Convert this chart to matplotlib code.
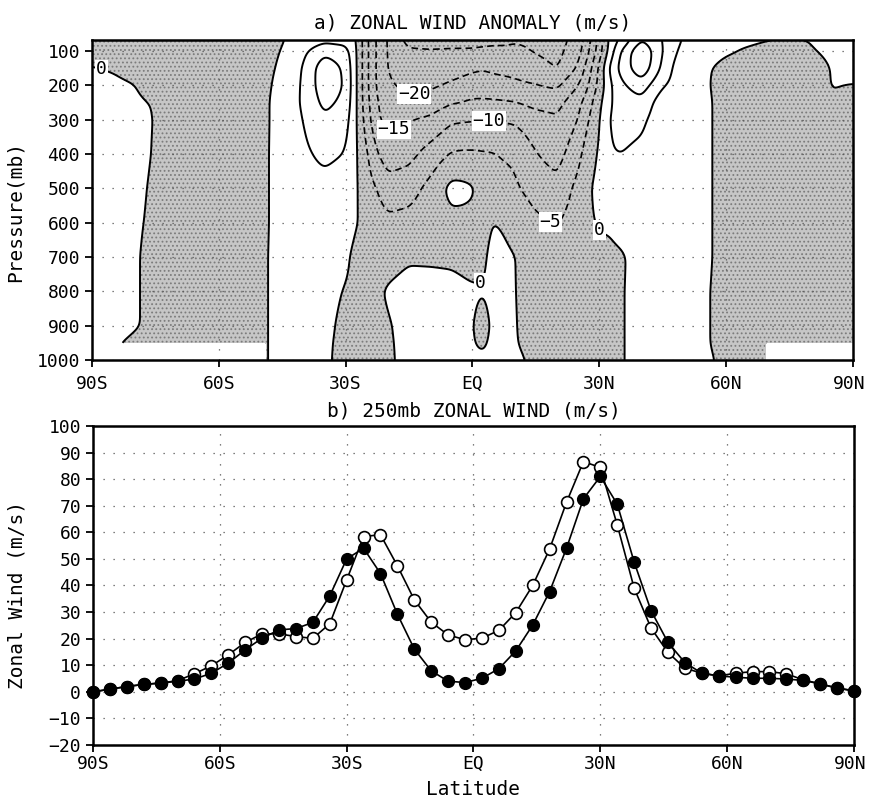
#!/usr/bin/env python3

import numpy as np
import matplotlib
matplotlib.use('Agg')
import matplotlib.pyplot as plt
from matplotlib.transforms import offset_copy

# === DATA ===
# panel a: zonal-mean zonal wind anomaly (m/s) on latitude x pressure
lat_a = [-90, -85, -80, -75, -70, -65, -60, -55, -50, -45, -40, -35, -30, -27.5,
         -25, -22.5, -20, -15, -10, -5, -2.5, 0, 2.5, 5, 7.5, 10, 15, 20, 25, 27.5,
         30, 32.5, 35, 40, 45, 50, 55, 60, 65, 70, 75, 80, 85, 90]
lev_a = [70, 100, 150, 200, 250, 300, 400, 500, 600, 700, 800, 900, 950, 1000]
u_anom = [
    # 70 mb
    [-2, -2, -2.5, -3, -3, -3, -3, -3, -2, -0.3, 2, 3.5, 3, 0.3, -9, -16, -20.5, -27, -27, -26.5,
     -26.5, -26.5, -26.5, -26, -26, -25.5, -25.5, -27, -23, -16.5, -8, 1.5, 5.5, 14.5, 9.8, 4.5, 2, 0.5, 0.5, 0.2,
     0.1, 0.1, 1, 2],
    # 100 mb
    [-1.5, -1.5, -2, -3, -3, -3, -3, -3, -2, 0.2, 4, 8.5, 7, 0.5, -9, -16, -20.5, -24, -24.5, -24.5,
     -24.5, -24.5, -24, -24, -24, -24, -25.5, -26.5, -22, -15.5, -7.5, 2, 10, 20, 10, 3, 1.5, 0.5, -0.3, -1,
     -1.2, -0.2, 0.5, 1.5],
    # 150 mb
    [0.2, -0.3, -1.2, -2.5, -3, -3, -3, -3, -2, 1, 5.3, 13.5, 9, 0.5, -9, -16, -20.3, -23, -22.5, -21.5,
     -21, -20.5, -20.2, -20.7, -21, -21.2, -23, -25.3, -19.5, -12, -4, 6, 11.5, 19, 8.8, 0.5, 0.5, -1, -1.5, -2,
     -2, -1, 0.1, 1],
    # 200 mb
    [1, 0.7, 0.1, -1.5, -3, -3, -3, -3, -2, 2, 5.5, 13.5, 9.5, 0.5, -9, -16, -19.2, -21.5, -20.8, -19.5,
     -19, -18.5, -18.2, -18.5, -18.8, -19.2, -19.8, -21, -15, -10, -3.5, 4, 8.8, 12.5, 5.5, 2, 0.5, -1.5, -2.5, -3,
     -3, -2, 0.2, -0.1],
    # 250 mb
    [1.5, 1.5, 0.5, -0.2, -2.5, -3, -3, -3, -2, 3, 5.4, 11.5, 8.5, 0.5, -8.5, -15, -17.5, -18.8, -18, -15.5,
     -15, -14, -14, -14.2, -14.5, -14.8, -16.5, -16.5, -11.5, -7, -1.2, 4.2, 7.8, 8.5, 2, 1.5, 0.8, -1.5, -2.5, -3,
     -3, -2.5, -0.5, -1],
    # 300 mb
    [2, 2, 0.8, -0.1, -2.5, -3, -3, -3, -2, 3, 5, 9, 7, 0.5, -7.5, -14.4, -16.5, -15.2, -14, -10.8,
     -10.5, -10.3, -10.2, -10.2, -10.4, -10.7, -13, -14.5, -10, -5, -0.3, 5.3, 7, 6, 2, 1.5, 0.8, -1.5, -3, -3,
     -3, -2.5, -1.5, -1.5],
    # 400 mb
    [2, 2, 0.8, -0.2, -2.5, -3, -3, -3, -1.8, 3, 4.2, 6, 4.8, 0.5, -4.5, -9.8, -12.5, -11.5, -8, -4.6,
     -4.3, -4.3, -4.5, -4.7, -5.5, -5.8, -9.8, -12, -6.5, -2, 0.5, 4.6, 5.0, 3.8, 2, 1.5, 0.8, -1.5, -3, -3,
     -3, -3, -2, -2],
    # 500 mb
    [2, 1.8, 0.6, -0.4, -2.5, -3, -3, -3, -1.8, 3, 3.5, 3.5, 3, 0.5, -2.8, -5.2, -8, -7, -3.5, 1.5,
     1.2, 0.5, -2, -2.8, -3.3, -4.3, -7, -8.5, -3.5, -0.6, 1.5, 2.2, 2.5, 2.5, 2, 1.5, 0.8, -1.5, -3, -3,
     -3, -3, -2.5, -2],
    # 600 mb
    [2, 1.8, 0.4, -0.5, -2.5, -3, -3, -3, -1.8, 3, 3, 3, 2.5, 0.3, -1.8, -2.5, -3.8, -3.3, -2, -1.3,
     -1.2, -1.2, -1, 0.1, -0.4, -1.5, -4, -5.3, -2.5, -0.5, 0.3, 0.5, 1.5, 2.2, 2, 1.5, 0.8, -1.5, -3, -3,
     -3, -3, -2.5, -2],
    # 700 mb
    [2, 1.8, 0.3, -0.8, -2.5, -3, -3, -3, -1.5, 3, 3, 3, 1, -1.5, -2, -2, -1.5, -0.5, -0.6, -0.7,
     -1, -1.5, -0.5, 0.9, 0.7, 0.1, -2, -2.5, -2, -1.5, -0.8, -0.8, -0.5, 1.5, 2, 1.5, 0.8, -1.5, -3, -3,
     -3, -3, -2.5, -2],
    # 800 mb
    [2, 1.5, 0.3, -0.8, -2.5, -3, -3, -3, -1.5, 3, 3, 2, -0.4, -1, -1, -0.6, 0.4, 1.5, 1.5, 1.2,
     0.8, 0.5, 0.1, 1, 0.8, 0.1, -1.5, -2.5, -2, -1.5, -1, -0.7, -0.3, 1.2, 2, 1.5, 0.5, -1.5, -3, -3,
     -3, -3, -2.5, -2],
    # 900 mb
    [1.5, 1.5, 0.3, -0.8, -2.5, -3, -3, -3, -1.5, 3, 3, 1.5, -1.5, -1.5, -1.2, -0.8, -0.3, 1.2, 1.5, 1.2,
     0.8, 0.2, -1.3, 0.8, 0.8, 0.2, -1.5, -2.5, -2, -1.5, -1, -0.7, -0.3, 1.2, 2, 1.5, 0.5, -1.5, -3, -3,
     -3, -3, -2.5, -2],
    # 950 mb
    [1, 0.3, -0.6, -1, -2.5, -3, -3, -3, -1.5, 3, 3, 1, -1.5, -1.5, -1.2, -0.8, -0.4, 1, 1.5, 1.2,
     0.8, 0.2, -0.5, 0.8, 0.8, 0.2, -1, -2.5, -2, -1.5, -1, -0.7, -0.3, 1.2, 2, 1.5, 0.5, -1.5, -3, -3,
     -3, -3, -2.5, -2],
    # 1000 mb
    [1, 0.3, -0.6, -1, -2.5, -3, -3, -3, -1.5, 3, 3, 0.8, -1.5, -1.5, -1.2, -0.8, -0.5, 1, 1.5, 1.2,
     0.8, 0.5, 0.5, 0.8, 0.8, 0.5, -0.5, -2.5, -2, -1.5, -1, -0.7, -0.3, 1.2, 2, 1.5, 0.8, -1, -3, -3,
     -3, -3, -2.5, -2],
]
# below-ground areas with no data: (lat_min, lat_max, pressure below which it is missing)
no_data = [(-90, -49, 950), (69.5, 90, 950)]

neg_levels = [-25, -20, -15, -10, -5]
pos_levels = [0, 5, 10, 15]
neg_label_at = [(-13.8, 225), (-18.2, 340), (3.9, 298), (17.6, 612)]
zero_label_at = [(-87.5, 147), (29.5, 627), (1.9, 781)]

# panel b: 250 mb zonal wind (m/s)
lat_b = [-90, -86, -82, -78, -74, -70, -66, -62, -58, -54, -50, -46, -42, -38, -34, -30,
         -26, -22, -18, -14, -10, -6, -2, 2, 6, 10, 14, 18, 22, 26, 30, 34, 38, 42, 46,
         50, 54, 58, 62, 66, 70, 74, 78, 82, 86, 90]
u250_closed = [0, 1.0, 2.0, 2.8, 3.3, 4.0, 4.8, 7.0, 10.8, 15.8, 20.2, 23.3, 23.8, 26.1, 36.1, 50.0,
               54.0, 44.5, 29.2, 16.1, 7.9, 4.0, 3.5, 5.1, 8.7, 15.4, 25.1, 37.7, 54.0, 72.6, 81.0,
               70.6, 48.8, 30.5, 18.6, 11.0, 7.0, 6.0, 5.5, 5.1, 5.1, 4.8, 4.3, 3.0, 1.4, 0.4]
u250_open = [0, 1.0, 2.0, 2.8, 3.3, 4.2, 6.8, 9.8, 13.9, 18.6, 21.8, 21.8, 20.8, 20.1, 25.6, 42.1,
             58.4, 59.1, 47.4, 34.6, 26.2, 21.4, 19.6, 20.2, 23.1, 29.8, 40.0, 53.7, 71.3, 86.6, 84.4,
             62.8, 39.0, 24.0, 14.8, 8.9, 7.0, 6.0, 7.0, 7.6, 7.6, 6.8, 4.5, 3.0, 1.4, 0.4]

lat_ticks = [-90, -60, -30, 0, 30, 60, 90]
lat_labels = ['90S', '60S', '30S', 'EQ', '30N', '60N', '90N']
p_ticks = [100, 200, 300, 400, 500, 600, 700, 800, 900, 1000]
u_ticks = [-20, -10, 0, 10, 20, 30, 40, 50, 60, 70, 80, 90, 100]
# === END DATA ===

FS_TICK = 13
FS_TEXT = 14
plt.rcParams['font.family'] = ['DejaVu Sans Mono']
plt.rcParams['hatch.color'] = '#7c7c7c'
plt.rcParams['hatch.linewidth'] = 0.8

GRID = dict(color='#555555', linestyle=(0, (1, 7)), linewidth=0.9)


def regrid(lat, lev, field, nlat=721, nlev=373):
    """Bilinear refinement of the coarse table, then a light gaussian smooth."""
    field = np.asarray(field, float)
    xf = np.linspace(lat[0], lat[-1], nlat)
    yf = np.linspace(lev[0], lev[-1], nlev)
    rows = np.array([np.interp(xf, lat, r) for r in field])
    z = np.array([np.interp(yf, lev, rows[:, j]) for j in range(nlat)]).T
    return xf, yf, smooth(z, 3.0, 5.0)


def smooth(z, sx, sy):
    def kern(s):
        n = int(3 * s)
        k = np.exp(-0.5 * (np.arange(-n, n + 1) / s) ** 2)
        return k / k.sum()
    kx, ky = kern(sx), kern(sy)
    hx, hy = len(kx) // 2, len(ky) // 2
    zp = np.pad(z, ((0, 0), (hx, hx)), mode='edge')
    z = np.array([np.convolve(r, kx, mode='valid') for r in zp])
    zp = np.pad(z, ((hy, hy), (0, 0)), mode='edge')
    z = np.array([np.convolve(c, ky, mode='valid') for c in zp.T]).T
    return z


def minus(v):
    return f"{v:.0f}".replace('-', '\u2212')


def style_axes(ax):
    for s in ax.spines.values():
        s.set_linewidth(1.8)
    ax.set_xlim(-90, 90)
    ax.set_xticks(lat_ticks)
    ax.set_xticklabels(lat_labels)
    ax.tick_params(direction='out', length=5, width=1.3, labelsize=FS_TICK)
    ax.grid(True, **GRID)


def nudge_last_xlabel(ax, dx):
    # keep the right-most latitude label inside the canvas
    lab = ax.get_xticklabels()[-1]
    lab.set_transform(offset_copy(lab.get_transform(), fig=ax.figure, x=dx, y=0, units='dots'))


def draw_anomaly(ax):
    xf, yf, z = regrid(lat_a, lev_a, u_anom)
    X, Y = np.meshgrid(xf, yf)
    bad = np.zeros(z.shape, bool)
    for lo, hi, ptop in no_data:
        bad |= (X >= lo) & (X <= hi) & (Y > ptop)
    z = np.ma.array(z, mask=bad)

    ax.contourf(xf, yf, z, levels=[-60, 0], colors=['#c6c6c6'], hatches=['....'])
    cn = ax.contour(xf, yf, z, levels=neg_levels, colors='k', linewidths=1.2,
                    linestyles=[(0, (4, 2.5))])
    cp = ax.contour(xf, yf, z, levels=pos_levels, colors='k', linewidths=1.4,
                    linestyles='solid')

    texts = ax.clabel(cn, manual=neg_label_at, inline=False, fmt=minus, fontsize=FS_TICK)
    texts += ax.clabel(cp, levels=[0], manual=zero_label_at, inline=False, fmt=minus,
                       fontsize=FS_TICK)
    for t in texts:
        t.set_rotation(0)
        t.set_bbox(dict(boxstyle='square,pad=0.05', fc='white', ec='none'))

    style_axes(ax)
    ax.set_ylim(1000, 68)
    ax.set_yticks(p_ticks)
    ax.tick_params(axis='x', pad=6)
    ax.set_ylabel('Pressure(mb)', fontsize=FS_TEXT)
    ax.yaxis.set_label_coords(-0.088, 0.463)
    ax.set_title('a) ZONAL WIND ANOMALY (m/s)', fontsize=FS_TEXT, pad=8)
    nudge_last_xlabel(ax, -4)


def draw_jet(ax):
    ax.plot(lat_b, u250_open, color='k', linewidth=1.2, marker='o', markersize=8.5,
            markerfacecolor='white', markeredgecolor='k', markeredgewidth=1.2,
            clip_on=False, zorder=3)
    ax.plot(lat_b, u250_closed, color='k', linewidth=1.2, marker='o', markersize=8.5,
            markerfacecolor='k', markeredgecolor='k', clip_on=False, zorder=4)

    style_axes(ax)
    ax.set_ylim(-20, 100)
    ax.set_yticks(u_ticks)
    ax.tick_params(axis='x', pad=2)
    ax.set_ylabel('Zonal Wind (m/s)', fontsize=FS_TEXT)
    ax.yaxis.set_label_coords(-0.088, 0.469)
    ax.set_xlabel('Latitude', fontsize=FS_TEXT, labelpad=5)
    ax.set_title('b) 250mb ZONAL WIND (m/s)', fontsize=FS_TEXT, pad=7)
    nudge_last_xlabel(ax, -4)


if __name__ == '__main__':
    fig = plt.figure(figsize=(8.7, 8.01), dpi=100)
    ax_a = fig.add_axes([0.1057, 0.5506, 0.8747, 0.3995])
    ax_b = fig.add_axes([0.1069, 0.0699, 0.8747, 0.3983])
    draw_anomaly(ax_a)
    draw_jet(ax_b)
    fig.savefig('out.png', dpi=100)
